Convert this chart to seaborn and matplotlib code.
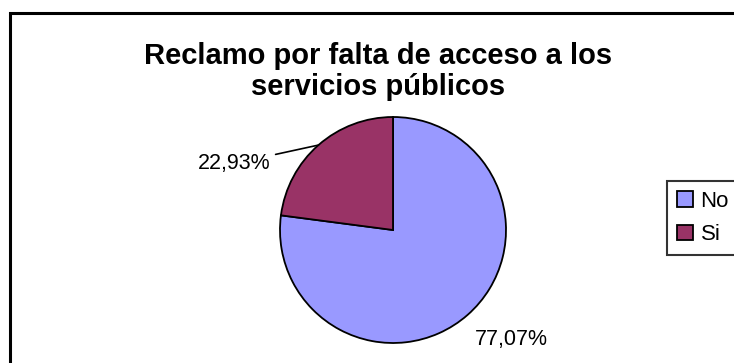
import matplotlib
matplotlib.use("Agg")
import matplotlib.pyplot as plt
from matplotlib.patches import Rectangle, Patch
import numpy as np
import seaborn as sns

# Survey answers and their shares (percent)
categories = ["No", "Si"]
shares = [77.07, 22.93]
colors = ["#9999FF", "#993366"]
title_lines = ["Reclamo por falta de acceso a los", "servicios públicos"]

sns.set_theme(style="white")
plt.rcParams["font.family"] = ["Liberation Sans", "DejaVu Sans"]
plt.rcParams["text.color"] = "black"
palette = sns.color_palette(colors)

W, H = 734, 363
fig = plt.figure(figsize=(W / 100, H / 100), dpi=100)
fig.patch.set_facecolor("white")

# Chart-area frame (runs off the right and bottom edges)
fig.patches.append(Rectangle((10 / W, -0.2), 1.2, 1 - 13 / H + 0.2,
                             transform=fig.transFigure, fill=False,
                             edgecolor="black", linewidth=2.2, zorder=0))

# Square pie axes, centre (393, 230) px, radius 113 px
cx, cy, r = 393, 230, 113
ax = fig.add_axes([(cx - r) / W, (H - cy - r) / H, 2 * r / W, 2 * r / H])
wedges, _ = ax.pie(shares, colors=palette, startangle=90, counterclock=False,
                   wedgeprops=dict(edgecolor="black", linewidth=1.3))
ax.set_xlim(-1, 1)
ax.set_ylim(-1, 1)
ax.set_aspect("equal")
ax.axis("off")

def fmt(v):
    return f"{v:.2f}".replace(".", ",") + "%"

# Percentage labels, positioned relative to each wedge's mid-angle
for w, v, name in zip(wedges, shares, categories):
    mid = np.deg2rad((w.theta1 + w.theta2) / 2)
    ex, ey = np.cos(mid), np.sin(mid)
    if name == "Si":
        ax.annotate(fmt(v), xy=(ex, ey), xytext=(-1.08, 0.59),
                    ha="right", va="center", fontsize=15.5, color="black",
                    arrowprops=dict(arrowstyle="-", color="black", lw=1.2,
                                    shrinkA=1, shrinkB=0),
                    annotation_clip=False)
    else:
        ax.text(1.05, -0.965, fmt(v), ha="center", va="center",
                fontsize=15.5, color="black", clip_on=False)

# Title
fig.text(378 / W, 1 - 64 / H, title_lines[0], ha="center", va="baseline",
         fontsize=21, fontweight="bold", color="black")
fig.text(378 / W, 1 - 95 / H, title_lines[1], ha="center", va="baseline",
         fontsize=21, fontweight="bold", color="black")

# Legend
handles = [Patch(facecolor=c, edgecolor="black", linewidth=1.3) for c in palette]
leg = fig.legend(handles, categories, loc="upper left",
                 bbox_to_anchor=(667 / W, 1 - 181 / H), fontsize=16,
                 frameon=True, fancybox=False, shadow=False,
                 handlelength=0.7, handleheight=0.7, handletextpad=0.36,
                 labelspacing=0.55, borderpad=0.45, borderaxespad=0)
leg.get_frame().set_edgecolor("black")
leg.get_frame().set_linewidth(1.5)
for t in leg.get_texts():
    t.set_color("black")

fig.savefig("out.png", dpi=100, facecolor="white")
